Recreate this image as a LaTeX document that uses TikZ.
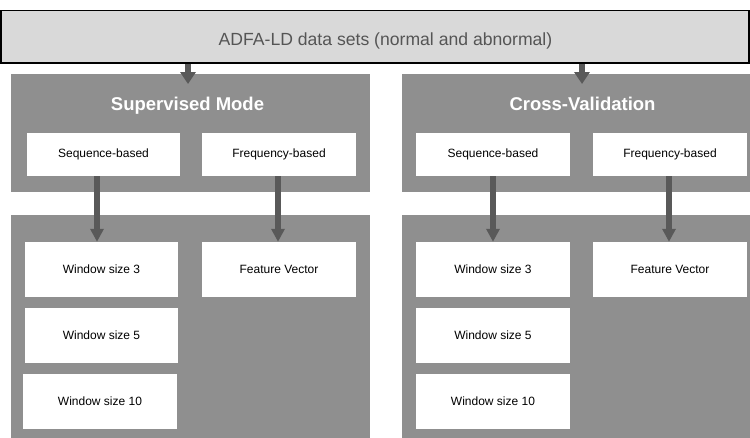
\documentclass[tikz,border=0pt]{standalone}
\usepackage{fontspec}
\setmainfont{Liberation Sans}
\usetikzlibrary{arrows.meta}
\definecolor{panelgray}{HTML}{8F8F8F}
\definecolor{topgray}{HTML}{D9D9D9}
\definecolor{arrowgray}{HTML}{595959}
\definecolor{toptext}{HTML}{555555}
\tikzset{
  panel/.style={fill=panelgray, draw=none, inner sep=0pt},
  wbox/.style={fill=white, draw=none, inner sep=0pt, font=\fontsize{12}{14}\selectfont, text=black},
  titletext/.style={font=\fontsize{18.5}{21}\bfseries\selectfont, text=white, inner sep=0pt, anchor=base},
  bigarr/.style={draw=arrowgray, line width=6pt, -{Triangle[width=15pt,length=12pt]}},
  arr/.style={draw=arrowgray, line width=6.5pt, -{Triangle[width=13pt,length=13pt]}}
}
\begin{document}
\begin{tikzpicture}[x=1pt,y=1pt]
\useasboundingbox (0,0) rectangle (750,-437);
% top bar
\node[fill=topgray, draw=black, line width=1.5pt, minimum width=748pt, minimum height=52.5pt, inner sep=0pt] (top) at (375,-36.75) {};
\node[text=toptext, font=\fontsize{17.6}{20}\selectfont, inner sep=0pt, anchor=base] (toplabel) at (385.5,-45) {ADFA-LD data sets (normal and abnormal)};
% panels
\node[panel, minimum width=359pt, minimum height=118pt] (supU) at (190.5,-133) {};
\node[panel, minimum width=359pt, minimum height=225pt] (supL) at (190.5,-327.5) {};
\node[panel, minimum width=350pt, minimum height=118pt] (cvU) at (577,-133) {};
\node[panel, minimum width=350pt, minimum height=225pt] (cvL) at (577,-327.5) {};
% titles
\node[titletext] (supT) at (187.5,-110) {Supervised Mode};
\node[titletext] (cvT) at (582.5,-110) {Cross-Validation};
% upper boxes
\node[wbox, minimum width=153pt, minimum height=43pt] (seqL) at (103.5,-154.5) {Sequence-based};
\node[wbox, minimum width=154pt, minimum height=43pt] (freqL) at (279,-154.5) {Frequency-based};
\node[wbox, minimum width=154pt, minimum height=43pt] (seqR) at (493,-154.5) {Sequence-based};
\node[wbox, minimum width=154pt, minimum height=43pt] (freqR) at (670,-154.5) {Frequency-based};
% lower boxes left
\node[wbox, minimum width=153pt, minimum height=55pt] (w3L) at (101.5,-269.5) {Window size 3};
\node[wbox, minimum width=154pt, minimum height=55pt] (fvL) at (279,-269.5) {Feature Vector};
\node[wbox, minimum width=153pt, minimum height=55pt] (w5L) at (101.5,-335.5) {Window size 5};
\node[wbox, minimum width=154pt, minimum height=55pt] (w10L) at (100,-401.5) {Window size 10};
% lower boxes right
\node[wbox, minimum width=154pt, minimum height=55pt] (w3R) at (493,-269.5) {Window size 3};
\node[wbox, minimum width=154pt, minimum height=55pt] (fvR) at (670,-269.5) {Feature Vector};
\node[wbox, minimum width=154pt, minimum height=55pt] (w5R) at (493,-335.5) {Window size 5};
\node[wbox, minimum width=154pt, minimum height=55pt] (w10R) at (493,-401.5) {Window size 10};
% arrow tips into panels
\coordinate (tipL) at (188,-84);
\coordinate (tipR) at (582,-84);
\draw[bigarr] (top.south -| tipL) -- (tipL);
\draw[bigarr] (top.south -| tipR) -- (tipR);
% lower arrows
\draw[arr] ([xshift=-6.5pt]seqL.south) -- ([xshift=-4.5pt]w3L.north);
\draw[arr] ([xshift=-1pt]freqL.south) -- ([xshift=-1pt]fvL.north);
\draw[arr] (seqR.south) -- (w3R.north);
\draw[arr] ([xshift=-1pt]freqR.south) -- ([xshift=-1pt]fvR.north);
\end{tikzpicture}
\end{document}
